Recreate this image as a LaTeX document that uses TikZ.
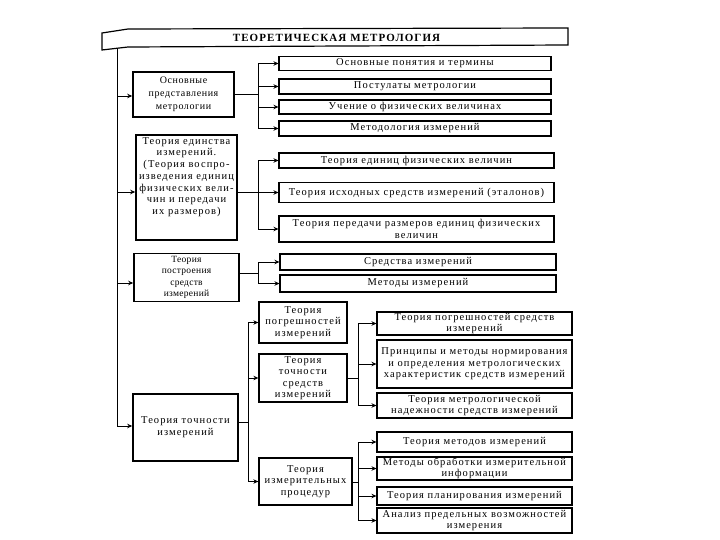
\documentclass[tikz,border=0pt]{standalone}
\usepackage{fontspec}
\setmainfont{Liberation Serif}[LetterSpace=10]
\newfontfamily\plainserif{Liberation Serif}[LetterSpace=3]
\newfontfamily\midserif{Liberation Serif}[LetterSpace=6]
\usetikzlibrary{arrows.meta,calc}
\begin{document}
\begin{tikzpicture}[x=1pt,y=-1pt,
  lbox/.style={draw,line width=1.6pt,align=center,inner sep=0pt,font=\fontsize{10.5}{11.7}\selectfont},
  nbox/.style={draw,line width=1.6pt,align=center,inner sep=0pt,font=\plainserif\fontsize{9.5}{11.5}\selectfont},
  mbox/.style={draw,line width=1.3pt,align=center,inner sep=0pt,font=\fontsize{10.5}{11.5}\selectfont},
  cbox/.style={draw,line width=1.1pt,align=center,inner sep=0pt,font=\fontsize{10.5}{11.5}\selectfont},
  conn/.style={line width=0.9pt},
  arr/.style={conn,-{Stealth[length=5pt,width=4.5pt]}}]
\useasboundingbox[fill=white] (0,0) rectangle (720,540);

% title banner
\draw[line width=1.2pt] (102,33) -- (128,29) -- (568,28) -- (568,45) -- (128,47) -- (102,50) -- cycle;
\node[font=\fontsize{11}{12}\selectfont\bfseries] (title) at (336.5,38) {ТЕОРЕТИЧЕСКАЯ МЕТРОЛОГИЯ};

% left column
\node[nbox,font=\midserif\fontsize{10}{13}\selectfont,minimum width=101pt,minimum height=45pt] (b1) at (183.5,94.5) {Основные\\представления\\метрологии};
\node[lbox,minimum width=101pt,minimum height=105pt] (b2) at (186.5,187.5) {};
\node[align=center,inner sep=0pt,font=\fontsize{10.5}{11.7}\selectfont] (b2t) at (186.5,177) {Теория единства\\измерений.\\(Теория воспро-\\изведения единиц\\физических вели-\\чин и передачи\\их размеров)};
\node[nbox,minimum width=105pt,minimum height=48pt] (b3) at (186.5,277.5) {Теория\\построения\\средств\\измерений};
\node[lbox,minimum width=105pt,minimum height=67pt] (b4) at (185.5,427.5) {Теория точности\\измерений};

% group 1 children
\node[cbox,minimum width=272pt,minimum height=14pt] (c11) at (415,63.5) {Основные понятия и термины};
\node[cbox,minimum width=272pt,minimum height=15pt] (c12) at (415,86.5) {Постулаты метрологии};
\node[cbox,minimum width=272pt,minimum height=14pt] (c13) at (415,107) {Учение о физических величинах};
\node[cbox,minimum width=272pt,minimum height=15pt] (c14) at (415,128.5) {Методология измерений};

% group 2 children
\node[cbox,minimum width=275pt,minimum height=15pt] (c21) at (416.5,160.5) {Теория единиц физических величин};
\node[cbox,minimum width=275pt,minimum height=20pt] (c22) at (416.5,192.5) {Теория исходных средств измерений (эталонов)};
\node[cbox,minimum width=275pt,minimum height=26pt] (c23) at (416.5,229) {Теория передачи размеров единиц физических\\величин};

% group 3 children
\node[cbox,minimum width=276pt,minimum height=16pt] (c31) at (418,262) {Средства измерений};
\node[cbox,minimum width=276pt,minimum height=17pt] (c32) at (418,283.5) {Методы измерений};

% middle column
\node[mbox,minimum width=88pt,minimum height=41pt] (m1) at (303,322.5) {Теория\\погрешностей\\измерений};
\node[mbox,minimum width=88pt,minimum height=48pt] (m2) at (303,378) {Теория\\точности\\средств\\измерений};
\node[mbox,minimum width=93pt,minimum height=47pt] (m3) at (305.5,481.5) {Теория\\измерительных\\процедур};

% right group A
\node[cbox,minimum width=195pt,minimum height=23pt] (r1) at (474.5,323.5) {Теория погрешностей средств\\измерений};
\node[cbox,minimum width=195pt,minimum height=48pt] (r2) at (474.5,364) {Принципы и методы нормирования\\и определения метрологических\\характеристик средств измерений};
\node[cbox,minimum width=195pt,minimum height=25pt] (r3) at (474.5,405.5) {Теория метрологической\\надежности средств измерений};

% right group B
\node[cbox,minimum width=195pt,minimum height=20pt] (r4) at (474.5,442) {Теория методов измерений};
\node[cbox,minimum width=195pt,minimum height=23pt] (r5) at (474.5,468.5) {Методы обработки измерительной\\информации};
\node[cbox,minimum width=195pt,minimum height=18pt] (r6) at (474.5,496) {Теория планирования измерений};
\node[cbox,minimum width=195pt,minimum height=25pt] (r7) at (474.5,520.5) {Анализ предельных возможностей\\измерения};

% main vertical
\coordinate (mtop) at (117,48.5);
\coordinate (a1) at ([yshift=-1.5pt]b1.west);
\coordinate (a2) at ([yshift=-4.5pt]b2.west);
\coordinate (a3) at ([yshift=-5.5pt]b3.west);
\coordinate (a4) at ([yshift=1.5pt]b4.west);
\draw[arr] (mtop) |- (a4);
\foreach \a in {a1,a2,a3} \draw[arr] (\a -| mtop) -- (\a);

% group 1 connectors
\coordinate (v1) at (258,0);
\draw[conn] (b1.east) -- (b1.east -| v1);
\draw[conn] (c11.west -| v1) -- (c14.west -| v1);
\foreach \n in {c11,c12,c13,c14} \draw[arr] (\n.west -| v1) -- (\n.west);

% group 2 connectors
\coordinate (e2) at ([yshift=-4.5pt]b2.east);
\draw[conn] (e2) -- (e2 -| v1);
\draw[conn] (c21.west -| v1) -- (c23.west -| v1);
\foreach \n in {c21,c22,c23} \draw[arr] (\n.west -| v1) -- (\n.west);

% group 3 connectors
\coordinate (e3) at ([yshift=4.5pt]b3.east);
\draw[conn] (e3) -- (e3 -| v1);
\draw[conn] (c31.west -| v1) -- (c32.west -| v1);
\foreach \n in {c31,c32} \draw[arr] (\n.west -| v1) -- (\n.west);

% group 4 connectors
\coordinate (v4) at (248,0);
\coordinate (e4) at ([yshift=5.5pt]b4.east);
\draw[conn] (e4) -- (e4 -| v4);
\draw[conn] (m1.west -| v4) -- (m3.west -| v4);
\foreach \n in {m1,m2,m3} \draw[arr] (\n.west -| v4) -- (\n.west);

% right group A connectors
\coordinate (v5) at (358,0);
\draw[conn] (m2.east) -- (m2.east -| v5);
\draw[conn] (r1.west -| v5) -- (r3.west -| v5);
\foreach \n in {r1,r2,r3} \draw[arr] (\n.west -| v5) -- (\n.west);

% right group B connectors
\coordinate (e6) at ([yshift=-0.5pt]m3.east);
\draw[conn] (e6) -- (e6 -| v5);
\draw[conn] (r4.west -| v5) -- (r7.west -| v5);
\foreach \n in {r4,r5,r6,r7} \draw[arr] (\n.west -| v5) -- (\n.west);
\end{tikzpicture}
\end{document}
